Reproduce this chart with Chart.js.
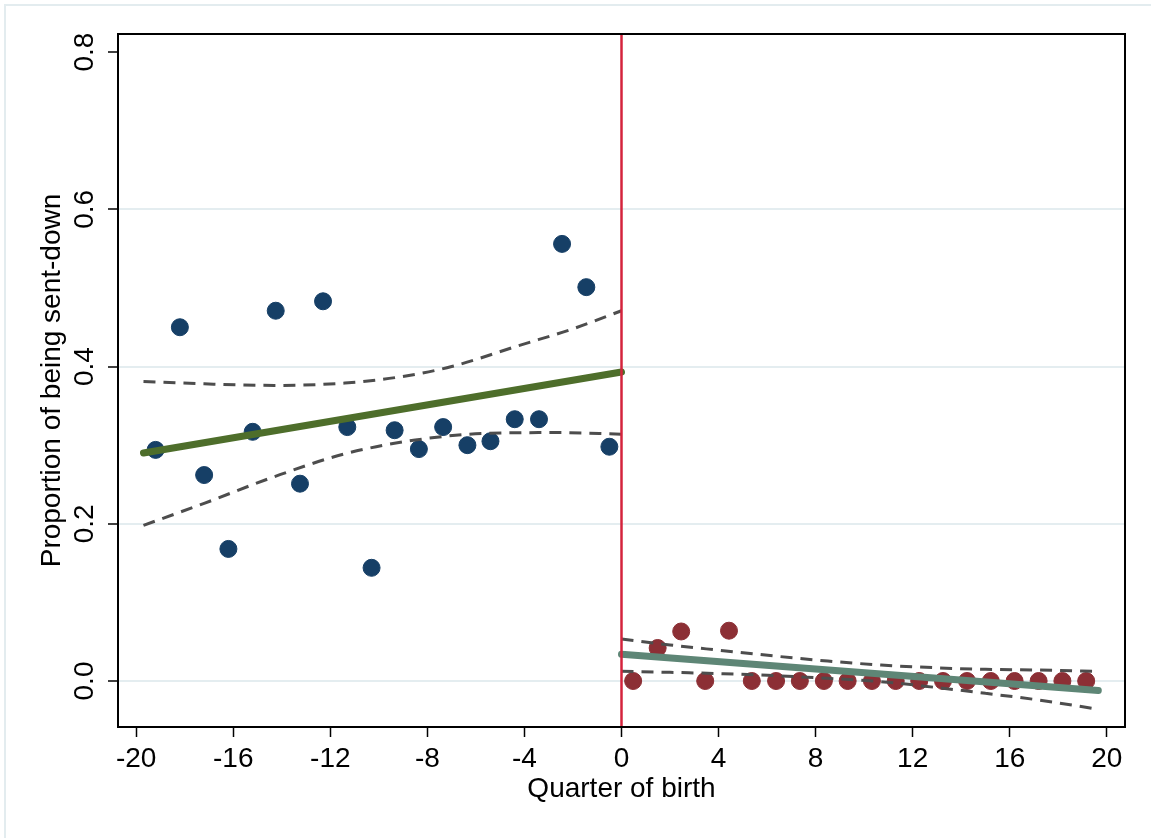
<!DOCTYPE html>
<html>
<head>
<meta charset="utf-8">
<script src="https://cdn.jsdelivr.net/npm/chart.js@4.4.1/dist/chart.umd.min.js"></script>
<style>
  body { margin: 0; background: #fff; }
</style>
</head>
<body>
<canvas id="rdChart" width="1151" height="838"></canvas>
<script>
// binned means, left of cutoff
const leftQuarter = [-19.2, -18.2, -17.2, -16.2, -15.2, -14.25, -13.25, -12.3, -11.3, -10.3,
                     -9.35, -8.35, -7.35, -6.35, -5.4, -4.4, -3.4, -2.45, -1.45, -0.5];
const leftShare = [0.294, 0.450, 0.262, 0.168, 0.317, 0.471, 0.251, 0.483, 0.323, 0.144,
                   0.319, 0.295, 0.323, 0.300, 0.305, 0.333, 0.333, 0.556, 0.501, 0.298];

// binned means, right of cutoff
const rightQuarter = [0.48, 1.49, 2.46, 3.45, 4.43, 5.37, 6.37, 7.35, 8.34, 9.32,
                      10.32, 11.3, 12.27, 13.25, 14.24, 15.22, 16.2, 17.19, 18.17, 19.15];
const rightShare = [0, 0.042, 0.063, 0, 0.064, 0, 0, 0, 0, 0,
                    0, 0, 0, 0, 0, 0, 0, 0, 0, 0];

// fitted lines
const leftFitX = [-19.7, 0];
const leftFitY = [0.290, 0.393];
const rightFitX = [0, 19.65];
const rightFitY = [0.034, -0.012];

// confidence bands
const leftUpX = [-19.7, -17.2, -14.3, -11.4, -9.1, -7.0, -4.2, -2.0, 0];
const leftUpY = [0.381, 0.378, 0.376, 0.379, 0.387, 0.400, 0.427, 0.448, 0.471];
const leftLoX = [-19.7, -17.2, -14.3, -11.4, -8.5, -5.6, -2.7, 0];
const leftLoY = [0.198, 0.226, 0.260, 0.289, 0.3065, 0.315, 0.316, 0.314];
const rightBandX = [0, 2.0, 4.2, 6.3, 8.5, 10.7, 12.9, 15.0, 17.2, 19.65];
const rightUpY = [0.0534, 0.0458, 0.0386, 0.0318, 0.0254, 0.0203, 0.0169, 0.0148, 0.0140, 0.0123];
const rightLoY = [0.0123, 0.0110, 0.0093, 0.0068, 0.0034, -0.0008, -0.0080, -0.0157, -0.0242, -0.0360];

const xTicks = [-20, -16, -12, -8, -4, 0, 4, 8, 12, 16, 20];
const yTicks = [0, 0.2, 0.4, 0.6, 0.8];
const yTickLabels = ['0.0', '0.2', '0.4', '0.6', '0.8'];
const xMin = -20.75, xMax = 20.75, yMin = -0.0585, yMax = 0.823;

const FONT = '"Liberation Sans", Arial, Helvetica, sans-serif';

function pts(xs, ys) {
    return xs.map((x, i) => ({x: x, y: ys[i]}));
}

function dashed(xs, ys) {
    return {
        data: pts(xs, ys),
        showLine: true,
        borderColor: '#4d4d4d',
        borderWidth: 3,
        borderDash: [12, 8],
        pointRadius: 0,
        cubicInterpolationMode: 'monotone',
        fill: false
    };
}

const extras = {
    id: 'extras',
    afterDraw(chart) {
        const ctx = chart.ctx;
        const a = chart.chartArea;
        const ys = chart.scales.y;
        ctx.save();
        // rotated y tick labels
        ctx.font = '28px ' + FONT;
        ctx.fillStyle = '#000';
        ctx.textAlign = 'center';
        ctx.textBaseline = 'alphabetic';
        yTicks.forEach((v, i) => {
            const py = ys.getPixelForValue(v);
            ctx.save();
            ctx.translate(a.left - 25, py);
            ctx.rotate(-Math.PI / 2);
            ctx.fillText(yTickLabels[i], 0, 0);
            ctx.restore();
        });
        // plot frame
        ctx.strokeStyle = '#000';
        ctx.lineWidth = 2;
        ctx.strokeRect(a.left, a.top, a.right - a.left, a.bottom - a.top);
        // outer light frame
        ctx.strokeStyle = '#e3ecef';
        ctx.lineWidth = 2;
        ctx.beginPath();
        ctx.moveTo(5, 838);
        ctx.lineTo(5, 5);
        ctx.lineTo(1151, 5);
        ctx.stroke();
        ctx.restore();
    }
};

const data = {
    datasets: [
        {
            // cutoff
            data: [{x: 0, y: yMin}, {x: 0, y: yMax}],
            showLine: true,
            borderColor: '#d4233c',
            borderWidth: 2.5,
            pointRadius: 0
        },
        dashed(leftUpX, leftUpY),
        dashed(leftLoX, leftLoY),
        dashed(rightBandX, rightUpY),
        dashed(rightBandX, rightLoY),
        {
            data: pts(leftFitX, leftFitY),
            showLine: true,
            borderColor: '#4e6e2b',
            borderWidth: 7,
            borderCapStyle: 'round',
            pointRadius: 0
        },
        {
            data: pts(rightFitX, rightFitY),
            showLine: true,
            borderColor: '#5e8676',
            borderWidth: 7,
            borderCapStyle: 'round',
            pointRadius: 0
        },
        {
            data: pts(leftQuarter, leftShare),
            backgroundColor: '#163f66',
            borderColor: '#163f66',
            pointRadius: 8.5,
            showLine: false
        },
        {
            data: pts(rightQuarter, rightShare),
            backgroundColor: '#8c2f35',
            borderColor: '#8c2f35',
            pointRadius: 8.5,
            showLine: false
        }
    ]
};

const config = {
    type: 'scatter',
    data: data,
    options: {
        responsive: false,
        animation: false,
        events: [],
        layout: { padding: { left: 0, right: 26, top: 34, bottom: 0 } },
        plugins: {
            legend: { display: false },
            tooltip: { enabled: false }
        },
        scales: {
            x: {
                type: 'linear',
                min: xMin,
                max: xMax,
                afterBuildTicks: (s) => { s.ticks = xTicks.map(v => ({value: v})); },
                afterFit: (s) => { s.height = 111; },
                grid: {
                    drawOnChartArea: false,
                    tickLength: 10,
                    tickColor: '#000',
                    tickWidth: 1.5
                },
                border: { display: false },
                ticks: {
                    font: { family: FONT, size: 28 },
                    color: '#000',
                    padding: 5,
                    maxRotation: 0
                },
                title: {
                    display: true,
                    text: 'Quarter of birth',
                    font: { family: FONT, size: 28 },
                    color: '#000',
                    padding: { top: 0, bottom: 32 }
                }
            },
            y: {
                type: 'linear',
                min: yMin,
                max: yMax,
                afterBuildTicks: (s) => { s.ticks = yTicks.map(v => ({value: v})); },
                afterFit: (s) => { s.width = 118; },
                grid: {
                    color: (c) => (c.tick && c.tick.value === 0.8) ? 'rgba(0,0,0,0)' : '#e4edf0',
                    lineWidth: 2,
                    tickLength: 10,
                    tickColor: '#000',
                    tickWidth: 1.5
                },
                border: { display: false },
                ticks: { display: false },
                title: {
                    display: true,
                    text: 'Proportion of being sent-down',
                    font: { family: FONT, size: 28 },
                    color: '#000',
                    padding: { top: 35, bottom: 0 }
                }
            }
        }
    },
    plugins: [extras]
};

const rdChart = new Chart(document.getElementById('rdChart'), config);
</script>
</body>
</html>
